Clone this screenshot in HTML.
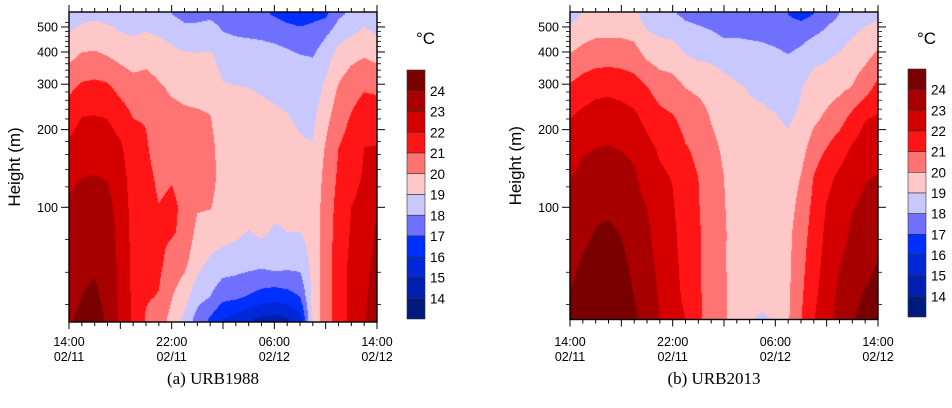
<!DOCTYPE html>
<html><head><meta charset="utf-8">
<style>
body{margin:0;background:#fff;width:952px;height:408px;overflow:hidden;position:relative;font-family:"Liberation Sans",sans-serif}
canvas{position:absolute}
svg{position:absolute;left:0;top:0}
</style></head>
<body>
<canvas id="cA"></canvas>
<canvas id="cB"></canvas>
<svg id="ov" width="952" height="408"></svg>
<script>
const hours = [0,1,2,3,4,5,6,7,8,9,10,11,12,13,14,15,16,17,18,19,20,21,22,23,24];
const heights = [37,45,60,80,100,130,170,220,290,380,460,560];
const levels = [14,15,16,17,18,19,20,21,22,23,24];
const levelColors = ["#001a80","#001fb0","#0028d8","#0030ff","#7070ff","#c8c8ff","#ffc8c8","#ff7373","#ff1515","#d40000","#a80000","#7a0000"];
const xTickLabels = ["14:00","22:00","06:00","14:00"];
const xDateLabels = ["02/11","02/11","02/12","02/12"];
const yTickValues = [100,200,300,400,500];
const yMinorValues = [42,56,75,120,140,160,180,220,240,260,280,320,340,360,380,420,440,460,480,520];
// URB1988: one array per hour, values at heights (bottom->top)
const tempA = [
[23.8,23.6,23.45,23.3,23.1,22.85,22.2,21.6,20.8,19.8,19.1,18.5],
[24.3,24.0,23.8,23.55,23.35,23.0,22.5,22.05,21.2,20.2,19.4,18.7],
[24.5,24.2,23.85,23.6,23.4,23.05,22.6,22.1,21.3,20.25,19.5,18.8],
[23.8,23.7,23.6,23.45,23.3,22.95,22.5,22.0,21.2,20.05,19.35,18.7],
[22.8,22.8,22.75,22.7,22.6,22.45,22.15,21.6,20.7,19.8,19.1,18.6],
[21.8,21.8,21.75,21.7,21.65,21.55,21.35,21.0,20.4,19.6,19.0,18.5],
[20.9,21.1,21.3,21.35,21.3,21.25,21.1,20.95,20.5,19.7,19.1,18.6],
[20.5,20.95,21.2,21.15,21.02,20.85,20.6,20.4,20.15,19.5,19.0,18.5],
[19.7,20.05,20.6,21.1,21.15,20.95,20.7,20.35,19.85,19.3,18.8,18.0],
[18.8,19.4,20.2,20.8,20.85,20.75,20.55,20.2,19.75,19.2,18.5,17.7],
[17.6,18.4,19.3,19.7,20.1,20.5,20.45,20.15,19.7,19.15,18.5,17.7],
[16.9,18.0,18.8,19.5,20.05,20.3,20.25,20.05,19.7,19.2,18.6,17.8],
[16.0,17.3,18.5,19.4,19.6,19.65,19.6,19.45,19.1,18.6,18.1,17.6],
[15.6,17.2,18.4,19.2,19.5,19.55,19.4,19.3,19.05,18.5,18.0,17.5],
[15.1,16.9,18.3,18.95,19.4,19.5,19.4,19.2,19.0,18.5,17.95,17.5],
[14.8,16.6,18.2,19.2,19.4,19.45,19.35,19.15,18.95,18.45,17.9,17.2],
[14.7,16.4,18.4,18.85,19.3,19.4,19.3,19.1,18.9,18.4,17.8,16.9],
[14.9,16.6,18.3,19.0,19.25,19.3,19.2,19.05,18.8,18.3,17.6,16.6],
[15.6,17.0,18.3,19.0,19.2,19.2,19.1,18.9,18.6,18.1,17.4,16.5],
[19.3,19.3,19.3,19.35,19.3,19.2,19.05,18.8,18.45,18.0,17.5,16.7],
[20.5,20.55,20.6,20.55,20.5,20.35,20.1,19.7,19.2,18.6,17.95,16.8],
[21.5,21.5,21.45,21.35,21.3,21.15,21.0,20.6,20.1,19.4,18.7,17.8],
[22.3,22.3,22.25,22.1,22.0,21.7,21.4,21.1,20.6,19.8,19.0,18.2],
[22.9,22.85,22.7,22.5,22.3,22.1,22.0,21.6,20.9,20.0,19.3,18.6],
[23.6,23.45,23.3,23.15,22.95,22.6,22.05,21.5,20.85,19.8,19.0,18.4]
];
// URB2013
const tempB = [
[24.3,24.05,23.75,23.5,23.3,22.95,22.45,22.0,21.15,20.15,19.4,18.6],
[24.6,24.4,24.1,23.8,23.6,23.35,22.85,22.3,21.5,20.45,19.75,19.05],
[24.8,24.6,24.35,24.05,23.8,23.45,23.0,22.45,21.75,20.6,19.95,19.3],
[24.8,24.65,24.4,24.15,23.85,23.5,23.05,22.5,21.8,20.65,19.95,19.3],
[24.6,24.45,24.25,23.95,23.7,23.4,22.95,22.4,21.7,20.6,19.95,19.3],
[24.15,24.0,23.75,23.5,23.35,23.15,22.8,22.25,21.5,20.45,19.85,19.2],
[23.7,23.55,23.35,23.15,23.0,22.6,22.3,21.7,21.05,19.9,19.2,18.5],
[23.0,22.9,22.75,22.6,22.45,22.2,21.85,21.3,20.6,19.6,18.95,18.4],
[22.4,22.35,22.3,22.2,22.1,21.95,21.6,21.1,20.45,19.5,18.9,18.1],
[22.0,21.8,21.65,21.55,21.4,21.25,21.05,20.7,20.0,19.1,18.5,17.8],
[21.1,21.1,21.1,21.1,21.05,21.0,20.85,20.5,19.8,18.9,18.3,17.7],
[20.7,20.7,20.65,20.6,20.55,20.45,20.25,19.95,19.6,18.85,18.15,17.6],
[20.15,20.15,20.1,20.1,20.05,20.0,19.85,19.6,19.3,18.7,17.95,17.5],
[19.4,19.5,19.55,19.6,19.6,19.55,19.45,19.3,19.1,18.6,17.95,17.4],
[19.05,19.3,19.4,19.45,19.45,19.4,19.3,19.15,18.95,18.5,17.9,17.3],
[18.9,19.25,19.35,19.4,19.4,19.35,19.25,19.1,18.9,18.4,17.85,17.3],
[19.05,19.3,19.35,19.35,19.35,19.3,19.2,19.05,18.8,18.3,17.7,17.2],
[19.9,19.85,19.8,19.75,19.6,19.45,19.2,18.9,18.6,18.1,17.5,17.0],
[20.95,20.85,20.7,20.55,20.35,20.05,19.6,19.15,18.95,18.35,17.7,16.7],
[21.95,21.8,21.6,21.4,21.25,21.05,20.5,19.8,19.4,18.8,18.0,17.0],
[22.6,22.5,22.35,22.2,22.05,21.75,21.0,20.2,19.6,18.9,18.3,17.6],
[23.4,23.25,22.95,22.65,22.45,22.2,21.6,20.6,19.8,19.15,18.6,18.0],
[23.9,23.7,23.4,23.15,22.95,22.55,22.1,21.35,20.05,19.5,18.95,18.4],
[24.4,24.1,23.75,23.45,23.2,22.95,22.5,21.95,20.6,19.8,19.3,18.6],
[24.5,24.3,24.05,23.7,23.45,23.05,22.6,22.15,21.3,20.25,19.6,18.8]
];

const NS="http://www.w3.org/2000/svg";
const ov=document.getElementById('ov');
function mk(tag,attrs,parent,txt){const e=document.createElementNS(NS,tag);for(const k in attrs)e.setAttribute(k,attrs[k]);if(txt!==undefined)e.textContent=txt;(parent||ov).appendChild(e);return e;}
function colorFor(v){let i=0;while(i<levels.length&&v>=levels[i])i++;return levelColors[i];}
function hex(c){return [parseInt(c.substr(1,2),16),parseInt(c.substr(3,2),16),parseInt(c.substr(5,2),16)];}
const rgb=levelColors.map(hex);
function valueAt(grid,h,H){
  let fi=h/(hours[1]-hours[0]);fi=Math.max(0,Math.min(hours.length-1.0001,fi));
  const i=Math.floor(fi),fx=fi-i;
  const lh=Math.log10(H);let j=0,fy;
  if(lh<=Math.log10(heights[0])){j=0;fy=0;}
  else if(lh>=Math.log10(heights[heights.length-1])){j=heights.length-2;fy=1;}
  else{while(Math.log10(heights[j+1])<lh)j++;fy=(lh-Math.log10(heights[j]))/(Math.log10(heights[j+1])-Math.log10(heights[j]));}
  const a=grid[i][j],b=grid[i+1][j],c=grid[i][j+1],d=grid[i+1][j+1];
  return (a*(1-fx)+b*fx)*(1-fy)+(c*(1-fx)+d*fx)*fy;
}
function panel(cfg){
  const {x0,x1,y0,y1,y100,k,grid,canvasId,name}=cfg;
  const xs=h=>x0+(x1-x0)*h/24;
  const ys=H=>y100-k*Math.log10(H/100);
  const Hy=y=>100*Math.pow(10,(y100-y)/k);
  const cv=document.getElementById(canvasId);
  const w=Math.round(x1-x0),ht=Math.round(y1-y0);
  cv.width=w;cv.height=ht;cv.style.left=x0+'px';cv.style.top=y0+'px';
  const ctx=cv.getContext('2d');const img=ctx.createImageData(w,ht);
  for(let py=0;py<ht;py++){const H=Hy(y0+py+0.5);
    for(let px=0;px<w;px++){const h=(px+0.5)/w*24;const v=valueAt(grid,h,H);
      let li=0;while(li<levels.length&&v>=levels[li])li++;const c=rgb[li];
      const o=(py*w+px)*4;img.data[o]=c[0];img.data[o+1]=c[1];img.data[o+2]=c[2];img.data[o+3]=255;}}
  ctx.putImageData(img,0,0);
  const g=mk('g',{});
  
  
  mk('rect',{x:x0,y:y0,width:x1-x0,height:y1-y0,fill:'none',stroke:'#000','stroke-width':1.4},g);
  for(let h=0;h<=24;h++){const x=xs(h),L=(h%4===0)?7:4;
    mk('line',{x1:x,x2:x,y1:y1,y2:y1+L,stroke:'#000','stroke-width':1},g);
    mk('line',{x1:x,x2:x,y1:y0,y2:y0-L,stroke:'#000','stroke-width':1},g);}
  for(let i=0;i<xTickLabels.length;i++){const x=xs(i*8);
    const t=mk('text',{x:x,y:346,'font-size':12.5,'text-anchor':'middle',fill:'#000'},g,xTickLabels[i]);
    
    
    const d=mk('text',{x:x,y:361,'font-size':12.5,'text-anchor':'middle',fill:'#000'},g,xDateLabels[i]);
    
    }
  yTickValues.forEach(v=>{const y=ys(v);
    mk('line',{x1:x0-8,x2:x0,y1:y,y2:y,stroke:'#000','stroke-width':1},g);
    mk('line',{x1:x1,x2:x1+8,y1:y,y2:y,stroke:'#000','stroke-width':1},g);
    const t=mk('text',{x:x0-11,y:y+4.5,'font-size':12.5,'text-anchor':'end',fill:'#000'},g,String(v));
    
    });
  yMinorValues.forEach(v=>{const y=ys(v);if(y<y0||y>y1)return;
    mk('line',{x1:x0-4,x2:x0,y1:y,y2:y,stroke:'#000','stroke-width':0.8},g);
    mk('line',{x1:x1,x2:x1+4,y1:y,y2:y,stroke:'#000','stroke-width':0.8},g);});
  const yl=mk('text',{x:0,y:0,'font-size':17,'text-anchor':'middle',fill:'#000',transform:`translate(${x0-49},${(y0+y1)/2}) rotate(-90)`},g,'Height (m)');
  
  
  // colorbar
  const cb=mk('g',{});
  
  
  const bh=(cfg.cbY1-cfg.cbY0)/levelColors.length;
  for(let i=0;i<levelColors.length;i++){const c=levelColors[levelColors.length-1-i];
    const r=mk('rect',{x:cfg.cbX,y:cfg.cbY0+i*bh,width:18,height:bh,fill:c,stroke:'#333','stroke-width':0.6},cb);
    
    }
  for(let i=0;i<levels.length;i++){const v=levels[levels.length-1-i];
    const t=mk('text',{x:cfg.cbX+23,y:cfg.cbY0+(i+1)*bh+5,'font-size':13.5,fill:'#000'},cb,String(v));
    
    }
  const u=mk('text',{x:cfg.cbX+9,y:44,'font-size':17,'text-anchor':'start',fill:'#000'},cb,'\u00B0C');
  
  
  const cap=mk('text',{x:(x0+x1)/2-10,y:384,'font-size':17,'text-anchor':'middle',fill:'#000','font-family':'Liberation Serif, serif'},ov,cfg.caption);
  
  
}
panel({x0:69,x1:377,y0:12,y1:322,y100:207.3,k:258,grid:tempA,canvasId:'cA',name:'urb1988',cbX:407,cbY0:70,cbY1:319,caption:'(a) URB1988'});
panel({x0:570,x1:878,y0:12,y1:319.5,y100:207.3,k:258,grid:tempB,canvasId:'cB',name:'urb2013',cbX:908,cbY0:69,cbY1:317,caption:'(b) URB2013'});
</script>
</body></html>
